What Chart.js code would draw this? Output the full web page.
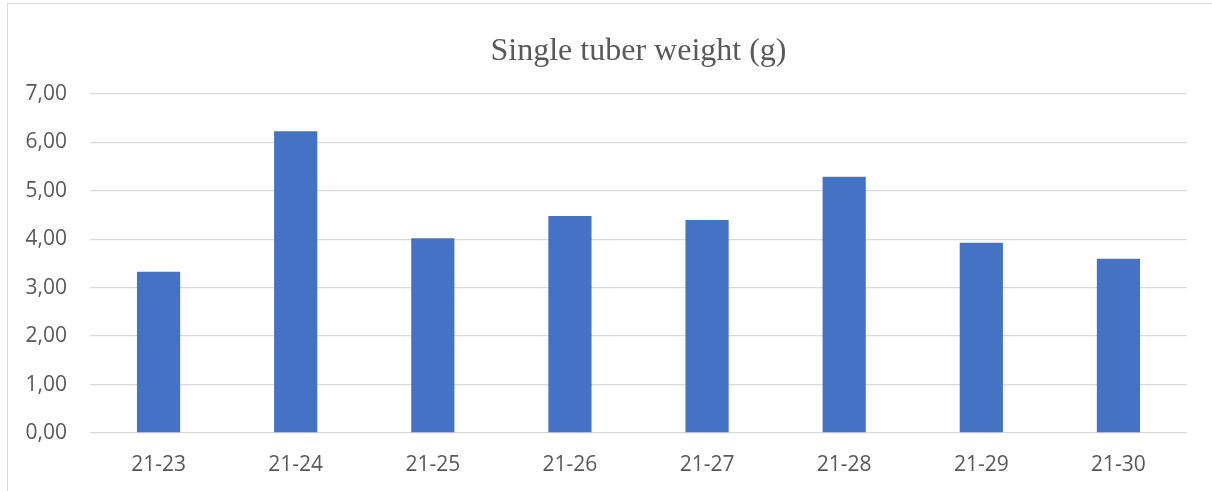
<!DOCTYPE html>
<html>
<head>
<meta charset="utf-8">
<script src="https://cdn.jsdelivr.net/npm/chart.js@4"></script>
<style>
    html, body {
        margin: 0;
        padding: 0;
        background: #fff;
        overflow: hidden;
    }
    #frame {
        position: absolute;
        left: 7px;
        top: 3px;
        width: 1205px;
        height: 488px;
        border-left: 1px solid #d9d9d9;
        border-top: 1px solid #d9d9d9;
    }
    #chart-box {
        position: absolute;
        left: 1px;
        top: 1px;
        width: 1204px;
        height: 487px;
    }
</style>
</head>
<body>
<div id="frame">
    <div id="chart-box">
        <canvas id="tuberChart"></canvas>
    </div>
</div>
<script>
const chartTitle = "Single tuber weight (g)";
const lines = ["21-23", "21-24", "21-25", "21-26", "21-27", "21-28", "21-29", "21-30"];
const tuberWeight = [3.33, 6.23, 4.02, 4.48, 4.40, 5.29, 3.93, 3.60];
const yMax = 7;
const yStep = 1;

const textColor = "#595959";
const gridColor = "#d9d9d9";
const barColor = "#4472c4";

const ctx = document.getElementById("tuberChart");

new Chart(ctx, {
    type: "bar",
    data: {
        labels: lines,
        datasets: [{
            label: chartTitle,
            data: tuberWeight,
            backgroundColor: barColor,
            borderWidth: 0,
            barPercentage: 0.315,
            categoryPercentage: 1
        }]
    },
    options: {
        responsive: true,
        maintainAspectRatio: false,
        animation: false,
        layout: {
            padding: { left: 0, right: 26, top: 0, bottom: 0 }
        },
        plugins: {
            legend: { display: false },
            tooltip: { enabled: false },
            title: {
                display: true,
                text: chartTitle,
                fullSize: false,
                color: textColor,
                font: { family: "'Liberation Serif', 'Times New Roman', serif", size: 32, weight: "normal" },
                padding: { top: 27, bottom: 23.6 }
            }
        },
        scales: {
            x: {
                grid: { display: false, drawTicks: false },
                border: { display: false },
                ticks: {
                    color: textColor,
                    font: { family: "'Open Sans', sans-serif", size: 21 },
                    padding: 19,
                    maxRotation: 0
                },
                afterFit: scale => { scale.height = 59; }
            },
            y: {
                min: 0,
                max: yMax,
                grid: { color: gridColor, lineWidth: 1.3, drawTicks: false },
                border: { display: false },
                ticks: {
                    stepSize: yStep,
                    color: textColor,
                    font: { family: "'Open Sans', sans-serif", size: 21 },
                    padding: 23,
                    callback: value => value.toFixed(2).replace(".", ",")
                },
                afterFit: scale => { scale.width = 81; }
            }
        }
    }
});
</script>
</body>
</html>
